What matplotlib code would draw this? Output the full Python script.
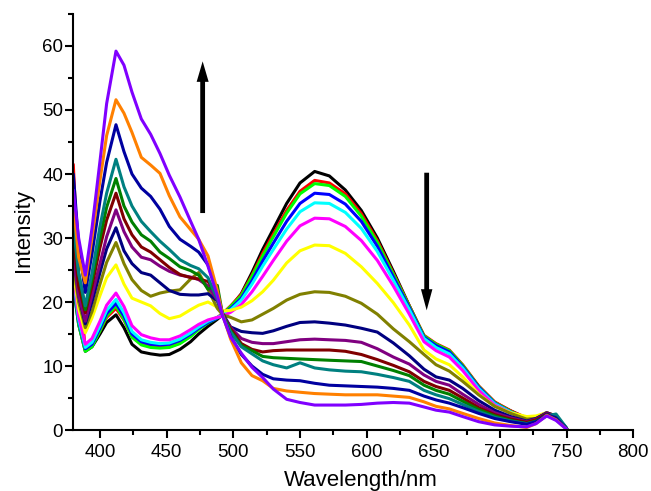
import matplotlib
matplotlib.use("Agg")
import matplotlib.pyplot as plt
from matplotlib.ticker import MultipleLocator

plt.rcParams["font.family"] = ["Liberation Sans", "DejaVu Sans"]

# Emission wavelengths (nm) shared by all spectra
wavelength = [380, 384, 389, 394, 400, 405, 412, 418, 424, 431, 438, 445, 452, 460,
              468, 474, 481, 488, 492, 498, 506, 514, 522, 530, 540, 550, 561, 572,
              584, 596, 608, 620, 632, 643, 652, 662, 672, 684, 696, 708, 720, 727,
              735, 742, 750]

# Fluorescence intensity of each titration step
s_black = [22.5, 16.5, 12.3, 13.0, 15.0, 16.8, 18.0, 16.0, 13.4, 12.2, 11.9, 11.7, 11.8, 12.6,
           13.8, 15.0, 16.2, 17.3, 18.0, 19.2, 21.3, 24.6, 28.2, 31.4, 35.4, 38.6, 40.4, 39.7,
           37.5, 34.3, 30.0, 24.8, 19.4, 14.6, 13.4, 12.3, 10.0, 6.8, 4.3, 3.0, 1.8, 1.9,
           2.7, 2.1, 0.2]
s_red = [41.5, 24.0, 12.6, 13.3, 15.5, 17.6, 19.0, 17.2, 14.6, 13.5, 13.1, 12.9, 13.0, 13.6,
         14.8, 15.9, 16.9, 17.6, 18.2, 19.4, 21.2, 24.2, 27.6, 30.6, 34.3, 37.3, 39.0, 38.6,
         36.9, 33.8, 29.6, 24.5, 19.4, 14.8, 13.5, 12.5, 10.2, 6.9, 4.4, 3.0, 1.9, 2.0,
         2.7, 2.2, 0.2]
s_lime = [23.0, 16.5, 12.3, 13.0, 15.5, 17.8, 19.4, 17.3, 14.5, 13.3, 12.9, 12.8, 12.9, 13.5,
          14.6, 15.7, 16.7, 17.5, 18.1, 19.3, 21.0, 24.0, 27.2, 30.2, 33.9, 36.9, 38.5, 38.2,
          36.5, 33.4, 29.3, 24.3, 19.3, 14.7, 13.4, 12.4, 10.1, 6.8, 4.3, 2.9, 1.8, 1.9,
          2.6, 2.1, 0.2]
s_blue = [23.5, 17.0, 12.7, 13.4, 15.9, 18.2, 19.8, 17.8, 15.0, 13.8, 13.4, 13.3, 13.4, 14.0,
          15.0, 15.9, 16.8, 17.5, 18.0, 19.0, 20.6, 23.3, 26.4, 29.2, 32.6, 35.4, 37.0, 36.8,
          35.3, 32.6, 28.7, 23.9, 19.1, 14.5, 13.2, 12.2, 9.9, 6.7, 4.2, 2.8, 1.8, 1.9,
          2.6, 2.2, 0.2]
s_cyan = [24.0, 17.3, 12.9, 13.7, 16.3, 18.7, 20.4, 18.3, 15.4, 14.1, 13.7, 13.5, 13.6, 14.2,
          15.2, 16.1, 17.0, 17.6, 18.0, 18.8, 20.3, 22.8, 25.6, 28.2, 31.4, 34.1, 35.5, 35.4,
          34.0, 31.5, 27.9, 23.4, 18.8, 14.3, 12.9, 11.9, 9.7, 6.5, 4.1, 2.8, 1.8, 1.9,
          2.6, 2.1, 0.2]
s_magenta = [24.5, 17.8, 13.4, 14.3, 17.0, 19.5, 21.4, 19.3, 16.3, 14.9, 14.4, 14.1, 14.1, 14.7,
             15.7, 16.5, 17.2, 17.6, 17.8, 18.4, 19.6, 21.6, 24.0, 26.5, 29.5, 31.9, 33.1, 33.0,
             31.8, 29.6, 26.5, 22.5, 18.1, 13.8, 12.4, 11.4, 9.3, 6.2, 3.9, 2.7, 1.8, 1.9,
             2.6, 2.1, 0.2]
s_yellow = [25.0, 19.0, 15.2, 17.5, 21.0, 23.8, 25.8, 22.8, 20.6, 20.0, 19.4, 18.2, 17.4, 17.8,
            18.8, 19.5, 20.0, 19.2, 18.6, 18.7, 19.2, 20.2, 21.6, 23.4, 26.1, 28.0, 28.9, 28.8,
            27.6, 25.5, 22.9, 19.9, 16.4, 12.5, 11.1, 10.2, 8.3, 5.6, 3.7, 2.7, 2.1, 2.2,
            2.7, 2.2, 0.2]
s_olive = [26.0, 20.0, 16.0, 18.5, 22.8, 26.2, 29.3, 26.0, 23.5, 21.8, 20.9, 21.4, 21.7, 21.9,
           23.6, 24.6, 22.0, 19.0, 18.0, 17.6, 16.9, 17.2, 18.1, 19.0, 20.3, 21.2, 21.6, 21.5,
           20.9, 19.8, 18.1, 15.8, 13.8, 11.8, 10.2, 9.2, 7.6, 5.5, 3.7, 2.6, 1.7, 1.8,
           2.6, 2.1, 0.2]
s_navy = [28.0, 21.0, 16.6, 20.0, 24.6, 28.3, 31.6, 28.0, 26.0, 24.6, 24.2, 23.0, 21.8, 21.2,
          21.1, 21.1, 21.3, 20.2, 18.2, 16.1, 15.4, 15.2, 15.1, 15.5, 16.2, 16.8, 16.9, 16.7,
          16.4, 15.9, 15.3, 13.6, 11.6, 9.5, 8.3, 7.8, 6.5, 4.6, 3.1, 2.1, 1.4, 1.8,
          2.7, 2.2, 0.2]
s_purple = [27.0, 21.0, 17.0, 21.0, 26.0, 30.2, 34.4, 31.0, 28.6, 27.0, 26.6, 25.6, 24.8, 24.2,
            23.9, 23.5, 22.5, 20.3, 18.0, 16.0, 14.3, 13.7, 13.5, 13.5, 13.8, 14.1, 14.2, 14.1,
            14.0, 13.7, 12.7, 11.4, 10.3, 8.6, 7.6, 7.0, 5.6, 4.0, 2.7, 1.9, 1.3, 1.7,
            2.6, 2.1, 0.2]
s_wine = [30.0, 22.5, 18.3, 22.5, 28.5, 32.8, 37.0, 33.0, 30.5, 28.6, 27.8, 26.6, 25.4, 24.3,
          23.8, 23.6, 23.2, 21.2, 18.0, 15.8, 13.5, 12.6, 12.2, 12.4, 12.5, 12.5, 12.5, 12.5,
          12.3, 11.8, 11.0, 10.1, 9.1, 7.6, 6.8, 6.2, 5.0, 3.5, 2.4, 1.7, 1.2, 1.6,
          2.5, 2.0, 0.2]
s_green = [33.5, 24.5, 18.8, 23.5, 30.0, 34.8, 39.3, 35.0, 32.5, 30.5, 29.5, 27.8, 26.8, 25.5,
           24.9, 24.2, 22.0, 22.6, 18.0, 15.5, 13.2, 12.4, 11.5, 11.3, 11.2, 11.1, 11.0, 10.9,
           10.8, 10.7, 10.0, 9.3, 8.5, 7.0, 6.2, 5.6, 4.5, 3.2, 2.2, 1.5, 1.0, 1.4,
           2.4, 1.9, 0.2]
s_teal = [32.0, 24.5, 19.4, 24.5, 31.8, 37.0, 42.3, 38.0, 35.0, 32.6, 31.0, 29.5, 28.2, 26.6,
          25.7, 25.2, 23.8, 20.5, 18.0, 15.3, 13.0, 11.9, 10.8, 10.2, 9.7, 10.5, 9.7, 9.4,
          9.2, 9.1, 8.7, 8.2, 7.6, 6.2, 5.5, 4.9, 4.0, 2.9, 2.0, 1.4, 1.0, 1.3,
          2.2, 2.5, 0.3]
s_royal = [40.0, 29.0, 21.5, 27.5, 35.8, 41.8, 47.7, 43.5, 40.0, 37.8, 36.5, 34.5, 31.8, 29.8,
           28.7, 27.8, 25.8, 21.5, 18.0, 14.6, 11.8, 10.0, 8.7, 8.0, 7.8, 7.7, 7.3, 7.0,
           6.9, 6.8, 6.7, 6.5, 6.2, 5.3, 4.7, 4.2, 3.5, 2.6, 1.8, 1.3, 0.9, 1.3,
           2.4, 1.9, 0.2]
s_orange = [35.5, 27.0, 23.0, 30.0, 39.0, 46.0, 51.6, 49.5, 46.5, 42.6, 41.4, 40.1, 36.6, 33.3,
            31.3, 29.8, 27.2, 21.8, 18.0, 14.2, 10.5, 8.5, 7.7, 6.5, 6.1, 5.9, 5.7, 5.6,
            5.5, 5.5, 5.5, 5.3, 5.1, 4.4, 3.7, 3.3, 2.6, 1.8, 1.1, 0.7, 0.4, 1.0,
            2.3, 1.6, 0.1]
s_violet = [37.5, 30.0, 24.2, 31.5, 42.0, 51.0, 59.2, 57.0, 52.8, 48.6, 46.2, 43.2, 39.8, 36.4,
            32.6, 29.8, 25.6, 21.0, 17.8, 14.5, 12.0, 9.8, 8.2, 6.4, 4.8, 4.3, 3.9, 3.9,
            3.9, 4.0, 4.2, 4.3, 4.2, 3.6, 3.1, 2.8, 2.1, 1.3, 0.8, 0.6, 0.5, 1.0,
            2.2, 1.5, 0.1]

series = [s_black, s_red, s_lime, s_blue, s_cyan, s_magenta, s_yellow, s_olive,
          s_navy, s_purple, s_wine, s_green, s_teal, s_royal, s_orange, s_violet]
colors = ["#000000", "#FF0000", "#00FF00", "#0000FF", "#00FFFF", "#FF00FF", "#FFFF00",
          "#808000", "#000080", "#800080", "#800000", "#008000", "#008080", "#0000A0",
          "#FF8000", "#8000FF"]

fig = plt.figure(figsize=(6.51, 4.91), dpi=100)
ax = fig.add_axes([0.1126, 0.1242, 0.8603, 0.8473])

for ys, c in zip(series, colors):
    ax.plot(wavelength, ys, color=c, lw=2.2, solid_joinstyle="round",
            solid_capstyle="round")

# Trend arrows: short-wavelength band grows, long-wavelength band falls
ax.arrow(477, 33.9, 0, 20.5, width=3.6, head_width=9.0, head_length=3.2,
         length_includes_head=False, color="black", lw=0)
ax.arrow(645, 40.2, 0, -18.2, width=3.6, head_width=8.6, head_length=3.3,
         length_includes_head=False, color="black", lw=0)

ax.set_xlim(380, 800)
ax.set_ylim(0, 65)
ax.set_xticks([400, 450, 500, 550, 600, 650, 700, 750, 800])
ax.xaxis.set_minor_locator(MultipleLocator(25))
ax.yaxis.set_major_locator(MultipleLocator(10))
ax.yaxis.set_minor_locator(MultipleLocator(5))

for side in ("top", "right"):
    ax.spines[side].set_visible(False)
for side in ("left", "bottom"):
    ax.spines[side].set_linewidth(1.5)

ax.tick_params(axis="both", which="major", direction="out", width=1.5,
               labelsize=13.5, colors="black")
ax.tick_params(axis="x", which="major", length=5.8, pad=4)
ax.tick_params(axis="y", which="major", length=5.8, pad=1.5)
ax.tick_params(axis="both", which="minor", direction="out", width=1.5, length=3.6)

fig.text(23 / 651, 1 - 230 / 491, "Intensity", rotation=90, ha="center",
         va="center", fontsize=16)
fig.text(361 / 651, 1 - 486 / 491, "Wavelength/nm", ha="center",
         va="baseline", fontsize=16)

fig.savefig("out.png", dpi=100)
